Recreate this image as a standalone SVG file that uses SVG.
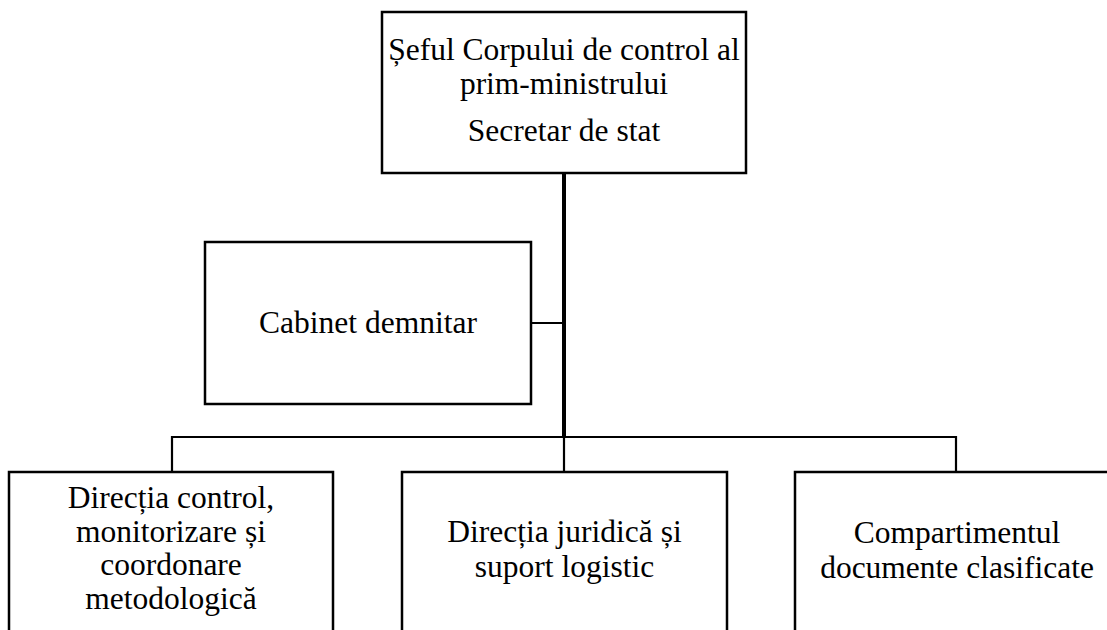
<svg xmlns="http://www.w3.org/2000/svg" width="1107" height="630" viewBox="0 0 1107 630">
<style>
.box{fill:#fff;stroke:#000;stroke-width:2.5}
.t{font-family:"Liberation Serif","Times New Roman",serif;font-size:31.5px;fill:#000;text-anchor:middle}
.ln{stroke:#000;stroke-width:2.2;fill:none}
.thick{stroke:#000;stroke-width:4;fill:none}
</style>
<rect width="1107" height="630" fill="#fff"/>
<g id="connectors">
<line class="thick" x1="564" y1="173" x2="564" y2="438"/>
<line class="ln" x1="531" y1="323" x2="564" y2="323"/>
<polyline class="ln" points="172,472 172,437 956,437 956,472"/>
<line class="ln" x1="564" y1="437" x2="564" y2="472"/>
</g>
<g id="sef">
<rect class="box" x="382" y="12" width="364" height="161"/>
<text class="t" x="564" y="60">Șeful Corpului de control al</text>
<text class="t" x="564" y="94">prim-ministrului</text>
<text class="t" x="564" y="141">Secretar de stat</text>
</g>
<g id="cabinet">
<rect class="box" x="205" y="242" width="326" height="162"/>
<text class="t" x="368" y="333">Cabinet demnitar</text>
</g>
<g id="directia-control">
<rect class="box" x="9" y="472" width="324" height="180"/>
<text class="t" x="171" y="508">Direcția control,</text>
<text class="t" x="171" y="542">monitorizare și</text>
<text class="t" x="171" y="575">coordonare</text>
<text class="t" x="171" y="609">metodologică</text>
</g>
<g id="directia-juridica">
<rect class="box" x="402" y="472" width="325" height="180"/>
<text class="t" x="564.5" y="542">Direcția juridică și</text>
<text class="t" x="564.5" y="577">suport logistic</text>
</g>
<g id="compartiment">
<rect class="box" x="795" y="472" width="325" height="180"/>
<text class="t" x="957" y="543">Compartimentul</text>
<text class="t" x="957" y="578">documente clasificate</text>
</g>
</svg>
